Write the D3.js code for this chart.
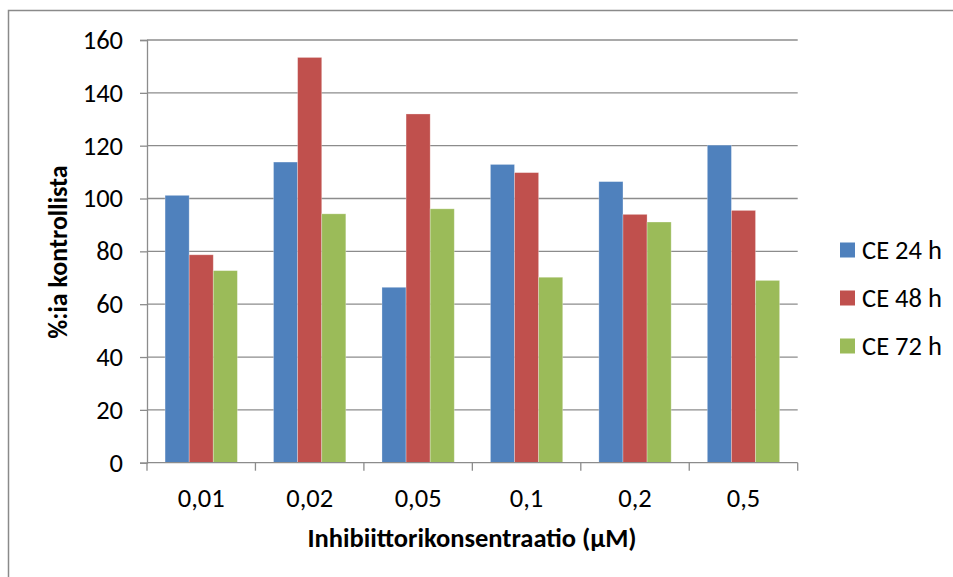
<!DOCTYPE html>
<html>
<head>
<meta charset="utf-8">
<script src="https://cdn.jsdelivr.net/npm/d3@7"></script>
<style>
  html, body { margin: 0; padding: 0; background: #fff; }
  svg { display: block; }
  text { font-family: Carlito, Lato, "Open Sans", sans-serif; fill: #000; }
</style>
</head>
<body>
<svg id="chart" width="953" height="577"></svg>
<script>
// Concentrations (µM) on the x axis
const categories = ["0,01", "0,02", "0,05", "0,1", "0,2", "0,5"];
// Series names
const seriesNames = ["CE 24 h", "CE 48 h", "CE 72 h"];
// Values as % of control, one array per series
const ce24 = [101.2, 113.8, 66.4, 112.9, 106.4, 120.2];
const ce48 = [78.7, 153.4, 132.0, 109.8, 94.0, 95.5];
const ce72 = [72.7, 94.2, 96.1, 70.2, 91.1, 69.0];
const seriesValues = [ce24, ce48, ce72];
const colors = ["#4F81BD", "#C0504D", "#9BBB59"];
// Y axis ticks
const yTicks = [0, 20, 40, 60, 80, 100, 120, 140, 160];

const svg = d3.select("#chart");

// Outer chart frame
svg.append("rect")
  .attr("x", 8.5).attr("y", 10.5)
  .attr("width", 960).attr("height", 600)
  .attr("fill", "none").attr("stroke", "#8a8a8a").attr("stroke-width", 1.5);

const plot = { left: 147, right: 797.7, top: 40, bottom: 462.7 };

const y = d3.scaleLinear().domain([0, 160]).range([plot.bottom, plot.top]);
const x0 = d3.scaleBand().domain(categories)
  .range([plot.left, plot.right])
  .paddingInner(1 / 3).paddingOuter(1 / 6);
const x1 = d3.scaleBand().domain(d3.range(seriesNames.length))
  .range([0, x0.bandwidth()]);
const step = x0.step();

// Horizontal gridlines
svg.append("g").selectAll("line")
  .data(yTicks.filter(d => d > 0))
  .join("line")
  .attr("x1", plot.left).attr("x2", plot.right)
  .attr("y1", d => y(d)).attr("y2", d => y(d))
  .attr("stroke", "#8c8c8c").attr("stroke-width", 1.3);

// Bars
const groups = svg.append("g").selectAll("g")
  .data(categories)
  .join("g")
  .attr("transform", c => `translate(${x0(c)},0)`);

groups.selectAll("rect")
  .data((c, i) => seriesValues.map((vals, s) => ({ s, v: vals[i] })))
  .join("rect")
  .attr("x", d => x1(d.s))
  .attr("width", x1.bandwidth())
  .attr("y", d => y(d.v))
  .attr("height", d => y(0) - y(d.v))
  .attr("fill", d => colors[d.s])
  .attr("stroke", "rgba(255,255,255,0.35)")
  .attr("stroke-width", 0.8);

// Y axis
const yAxis = d3.axisLeft(y).tickValues(yTicks).tickSize(7).tickPadding(17)
  .tickFormat(d3.format("d"));
svg.append("g")
  .attr("transform", `translate(${plot.left},0)`)
  .call(yAxis)
  .call(g => g.select(".domain").attr("stroke", "#8c8c8c").attr("stroke-width", 1.3))
  .call(g => g.selectAll(".tick line").attr("stroke", "#8c8c8c").attr("stroke-width", 1.3))
  .call(g => g.selectAll(".tick text")
    .style("font-family", "Carlito, Lato, 'Open Sans', sans-serif")
    .style("font-size", "26.5px").attr("fill", "#000"));

// X axis: ticks at category boundaries, labels centred in each category
const xg = svg.append("g").attr("transform", `translate(0,${plot.bottom})`);
xg.append("line")
  .attr("x1", plot.left).attr("x2", plot.right)
  .attr("stroke", "#8c8c8c").attr("stroke-width", 1.3);
xg.selectAll("line.tk")
  .data(d3.range(categories.length + 1))
  .join("line").attr("class", "tk")
  .attr("x1", i => plot.left + i * step).attr("x2", i => plot.left + i * step)
  .attr("y1", 0).attr("y2", 8)
  .attr("stroke", "#8c8c8c").attr("stroke-width", 1.3);
xg.selectAll("text")
  .data(categories)
  .join("text")
  .attr("x", c => x0(c) + x0.bandwidth() / 2)
  .attr("y", 44)
  .attr("text-anchor", "middle")
  .style("font-size", "26.5px")
  .text(c => c);

// Axis titles
svg.append("text")
  .attr("transform", "translate(67,252) rotate(-90)")
  .attr("text-anchor", "middle")
  .style("font-size", "26px").style("font-weight", "bold")
  .text("%:ia kontrollista");

svg.append("text")
  .attr("x", 472).attr("y", 547)
  .attr("text-anchor", "middle")
  .style("font-size", "26.5px").style("font-weight", "bold")
  .text("Inhibiittorikonsentraatio (µM)");

// Legend
const legend = svg.append("g").selectAll("g")
  .data(seriesNames)
  .join("g")
  .attr("transform", (d, i) => `translate(840,${250 + i * 48})`);
legend.append("rect")
  .attr("x", 0).attr("y", -7.5).attr("width", 15).attr("height", 15)
  .attr("fill", (d, i) => colors[i]);
legend.append("text")
  .attr("x", 22).attr("y", 9)
  .style("font-size", "26.5px")
  .text(d => d);
</script>
</body>
</html>
